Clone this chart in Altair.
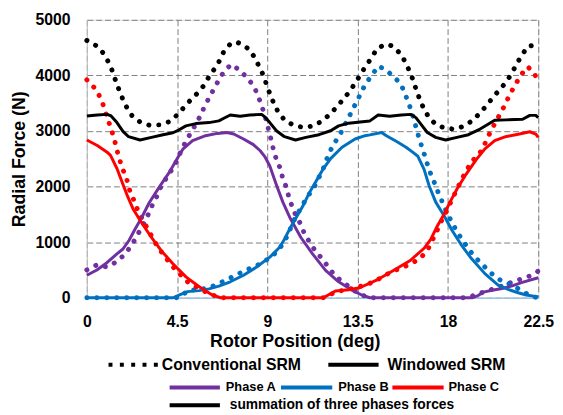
import altair as alt
import pandas as pd

# ---------------- data ----------------
conv_total_x = [0, 0.44, 0.8, 1.05, 1.26, 1.42, 1.59, 1.78, 2.0, 2.26, 2.65, 3.11, 3.63, 4.12, 4.5, 4.81, 5.16, 5.52, 5.84, 6.09, 6.38, 6.63, 6.83, 7.19, 7.45, 7.68, 8.05, 8.35, 8.58, 8.79, 8.95, 9.12, 9.31, 9.53, 9.85, 10.3, 10.8, 11.3, 11.74, 12.11, 12.42, 12.77, 13.1, 13.37, 13.65, 13.91, 14.19, 14.44, 14.81, 15.05, 15.3, 15.67, 15.91, 16.11, 16.29, 16.44, 16.62, 16.81, 17.06, 17.42, 17.91, 18.42, 18.89, 19.3, 19.65, 19.97, 20.28, 20.63, 20.94, 21.2, 21.43, 21.69, 21.97, 22.41, 22.5]
conv_total_y = [4628, 4540, 4409, 4256, 4090, 3920, 3753, 3583, 3417, 3270, 3163, 3104, 3110, 3168, 3287, 3411, 3553, 3683, 3819, 3978, 4125, 4274, 4433, 4580, 4600, 4568, 4480, 4332, 4167, 4008, 3842, 3671, 3505, 3346, 3198, 3104, 3062, 3092, 3181, 3299, 3417, 3565, 3712, 3859, 4019, 4173, 4315, 4469, 4551, 4555, 4510, 4373, 4214, 4054, 3890, 3712, 3547, 3388, 3239, 3110, 3044, 3034, 3104, 3210, 3346, 3477, 3624, 3760, 3902, 4049, 4214, 4363, 4522, 4551, 4560]

win_total_x = [0, 0.52, 1.01, 1.21, 1.5, 1.8, 2.08, 2.65, 3.22, 3.8, 4.29, 4.58, 4.94, 5.43, 6.09, 6.58, 6.83, 7.15, 7.64, 8.13, 8.71, 8.87, 9.12, 9.45, 9.85, 10.4, 10.92, 11.57, 12.15, 12.55, 13.05, 13.62, 14.11, 14.52, 15.09, 15.67, 16.16, 16.4, 16.65, 16.97, 17.39, 17.88, 18.45, 19.02, 19.6, 20.0, 20.33, 20.9, 21.72, 22.08, 22.38, 22.5]
win_total_y = [3270, 3287, 3299, 3270, 3151, 2992, 2897, 2838, 2885, 2933, 2968, 3016, 3092, 3133, 3151, 3181, 3228, 3287, 3264, 3287, 3299, 3252, 3151, 3004, 2897, 2838, 2885, 2933, 3004, 3092, 3140, 3163, 3181, 3287, 3264, 3287, 3299, 3240, 3122, 2973, 2885, 2838, 2885, 2933, 3034, 3122, 3193, 3200, 3210, 3281, 3281, 3240]

win_a_x = [0, 0.5, 1.0, 1.5, 1.8, 2.1, 2.4, 2.73, 3.1, 3.6, 4.1, 4.5, 4.8, 5.27, 5.92, 6.5, 6.99, 7.32, 7.81, 8.3, 8.63, 8.87, 9.12, 9.45, 9.77, 10.15, 10.67, 11.25, 11.9, 12.55, 13.21, 13.7, 14.1, 19.2, 19.5, 19.76, 20.2, 20.7, 21.2, 21.7, 22.5]
win_a_y = [404, 500, 630, 790, 877, 1030, 1231, 1439, 1705, 1985, 2250, 2500, 2679, 2826, 2915, 2956, 2973, 2945, 2856, 2755, 2649, 2540, 2370, 2030, 1720, 1420, 1084, 789, 493, 287, 138, 50, 0, 0, 40, 100, 135, 165, 215, 275, 360]

conv_a_x = [0, 0.52, 1.01, 1.45, 1.83, 2.16, 2.41, 2.65, 2.9, 3.11, 3.31, 3.55, 3.71, 4.01, 4.29, 4.53, 4.7, 4.94, 5.19, 5.43, 5.68, 5.87, 6.09, 6.34, 6.58, 6.83, 7.19, 7.61, 7.97, 8.27, 8.5, 8.66, 8.82, 8.95, 9.07, 9.2, 9.31, 9.45, 9.66, 9.77, 9.97, 10.07, 10.23, 10.43, 10.67, 10.84, 11.08, 11.36, 11.66, 11.98, 12.26, 12.6, 12.97, 13.29, 13.7, 14.1, 19.0, 19.35, 19.84, 20.33, 20.83, 21.23, 21.72, 22.18, 22.5]
conv_a_y = [500, 594, 552, 641, 759, 907, 1054, 1214, 1379, 1538, 1705, 1864, 2017, 2176, 2336, 2490, 2649, 2814, 2973, 3122, 3287, 3447, 3594, 3760, 3920, 4067, 4196, 4097, 3966, 3831, 3671, 3505, 3340, 3181, 3004, 2826, 2649, 2484, 2313, 2135, 1970, 1804, 1645, 1467, 1320, 1155, 1014, 859, 730, 581, 446, 328, 227, 138, 50, 0, 0, 50, 110, 168, 227, 287, 346, 404, 480]

win_b_x = [0, 4.3, 4.62, 5.02, 5.6, 6.09, 6.58, 7.15, 7.81, 8.46, 9.12, 9.61, 9.85, 10.1, 10.43, 10.76, 11.08, 11.41, 11.74, 12.15, 12.72, 13.37, 13.87, 14.11, 14.69, 14.93, 15.42, 15.91, 16.24, 16.5, 16.81, 17.06, 17.39, 17.8, 18.2, 18.69, 19.18, 19.84, 20.5, 21.0, 21.5, 21.9, 22.5]
win_b_y = [0, 0, 50, 110, 128, 160, 209, 287, 404, 552, 730, 907, 1054, 1231, 1439, 1645, 1882, 2087, 2295, 2502, 2708, 2856, 2915, 2930, 2973, 2915, 2814, 2708, 2619, 2545, 2310, 2015, 1720, 1480, 1215, 936, 700, 434, 227, 150, 90, 50, 15]

conv_b_x = [0, 4.6, 4.75, 5.02, 6.0, 6.5, 6.99, 7.43, 7.89, 8.33, 8.79, 9.2, 9.53, 9.85, 10.07, 10.3, 10.67, 11.0, 11.33, 11.49, 11.74, 11.9, 12.06, 12.31, 12.59, 12.8, 13.05, 13.26, 13.51, 13.7, 13.95, 14.24, 14.55, 14.96, 15.34, 15.67, 15.86, 16.04, 16.19, 16.32, 16.45, 16.57, 16.73, 16.9, 17.06, 17.26, 17.42, 17.63, 17.8, 18.04, 18.25, 18.5, 18.78, 19.02, 19.35, 19.68, 20.0, 20.33, 20.74, 21.23, 21.72, 22.2, 22.5]
conv_b_y = [0, 0, 40, 128, 168, 240, 328, 404, 493, 552, 641, 741, 847, 1014, 1173, 1380, 1616, 1822, 1981, 2117, 2277, 2442, 2590, 2768, 2915, 3074, 3239, 3399, 3565, 3720, 3872, 4026, 4168, 4079, 3966, 3831, 3665, 3505, 3340, 3181, 3016, 2856, 2679, 2496, 2295, 2135, 1970, 1804, 1645, 1467, 1320, 1155, 1014, 877, 730, 611, 493, 386, 287, 227, 110, 21, 0]

win_c_x = [0, 0.52, 1.01, 1.18, 1.5, 1.75, 2.0, 2.32, 2.73, 3.22, 3.71, 4.29, 4.94, 5.6, 6.25, 6.66, 11.8, 11.9, 12.39, 13.05, 13.6, 14.44, 15.3, 16.12, 16.81, 17.14, 17.47, 17.8, 18.12, 18.45, 18.9, 19.4, 19.84, 20.33, 20.87, 21.56, 22.08, 22.38, 22.5]
win_c_y = [2838, 2738, 2619, 2560, 2325, 2087, 1852, 1586, 1350, 1084, 847, 611, 376, 198, 50, 0, 0, 21, 120, 145, 180, 316, 493, 670, 890, 1050, 1290, 1497, 1733, 1955, 2220, 2480, 2679, 2826, 2897, 2945, 2986, 2945, 2885]

conv_c_x = [0, 0.36, 0.64, 0.82, 0.96, 1.13, 1.29, 1.42, 1.54, 1.67, 1.83, 2.0, 2.13, 2.32, 2.49, 2.73, 2.95, 3.22, 3.47, 3.76, 4.04, 4.37, 4.7, 5.02, 5.43, 5.84, 6.25, 6.7, 11.9, 12.39, 12.88, 13.37, 13.87, 14.33, 14.8, 15.25, 15.7, 16.16, 16.62, 16.97, 17.19, 17.42, 17.6, 17.84, 18.04, 18.25, 18.47, 18.69, 18.94, 19.18, 19.55, 19.8, 20.0, 20.22, 20.45, 20.7, 20.92, 21.15, 21.4, 21.64, 21.97, 22.25, 22.5]
conv_c_y = [3920, 3783, 3624, 3464, 3299, 3122, 2945, 2779, 2601, 2442, 2277, 2117, 1940, 1776, 1616, 1439, 1290, 1113, 953, 801, 670, 523, 404, 287, 198, 120, 50, 0, 0, 110, 138, 181, 227, 292, 390, 478, 538, 611, 712, 847, 1014, 1173, 1332, 1485, 1645, 1804, 1970, 2135, 2295, 2454, 2578, 2738, 2900, 3053, 3210, 3370, 3535, 3700, 3860, 4008, 4155, 4067, 3902]

x_ticks = [0, 4.5, 9, 13.5, 18, 22.5]
y_ticks = [0, 1000, 2000, 3000, 4000, 5000]

series_names = ["Phase A", "Phase B", "Phase C", "Total"]
series_colors = ["#7030A0", "#0070C0", "#FF0000", "#000000"]

FONT = "Liberation Sans"


def frame(xs, ys, name):
    return pd.DataFrame({"deg": xs, "force": ys, "series": name})


conv_df = pd.concat([
    frame(conv_a_x, conv_a_y, "Phase A"),
    frame(conv_b_x, conv_b_y, "Phase B"),
    frame(conv_c_x, conv_c_y, "Phase C"),
    frame(conv_total_x, conv_total_y, "Total"),
])
win_df = pd.concat([
    frame(win_a_x, win_a_y, "Phase A"),
    frame(win_b_x, win_b_y, "Phase B"),
    frame(win_c_x, win_c_y, "Phase C"),
    frame(win_total_x, win_total_y, "Total"),
])

x_enc = alt.X(
    "deg:Q",
    scale=alt.Scale(domain=[0, 22.5], nice=False, zero=False),
    axis=alt.Axis(
        values=x_ticks, format=".1~f", title="Rotor Position (deg)",
        titleX=211, titleY=44, titleAlign="center", titleBaseline="middle",
        titleFontSize=18, titleFont=FONT, titleFontWeight="bold", titleColor="#000000",
        labelFontSize=16, labelFont=FONT, labelFontWeight="bold", labelColor="#000000",
        labelPadding=29, labelBaseline="alphabetic", labelFlush=False,
        ticks=False, tickSize=0,
        domainColor="#9DC3E6", domainWidth=1.5,
        grid=True, gridColor="#7F7F7F", gridDash=[6, 3], gridWidth=1,
    ),
)
y_enc = alt.Y(
    "force:Q",
    scale=alt.Scale(domain=[0, 5000], nice=False),
    axis=alt.Axis(
        values=y_ticks, format="d", title="Radial Force (N)",
        titleX=-68, titleY=141, titleAngle=270, titleAlign="center", titleBaseline="middle",
        titleFontSize=18, titleFont=FONT, titleFontWeight="bold", titleColor="#000000",
        labelFontSize=16, labelFont=FONT, labelFontWeight="bold", labelColor="#000000",
        labelPadding=17, ticks=False, tickSize=0,
        domainColor="#BFBFBF", domainWidth=1,
        grid=True, gridColor="#7F7F7F", gridDash=[6, 3], gridWidth=1,
    ),
)
color_enc = alt.Color(
    "series:N",
    scale=alt.Scale(domain=series_names, range=series_colors),
    legend=None,
)

conv_layer = alt.Chart(conv_df).mark_line(
    strokeDash=[0.1, 10], strokeCap="round", strokeWidth=5
).encode(x=x_enc, y=y_enc, color=color_enc)

win_layer = alt.Chart(win_df).mark_line(
    strokeWidth=3, strokeJoin="round"
).encode(x=x_enc, y=y_enc, color=color_enc)

# ---------------- hand-built legend (outside plot area) ----------------
leg_lines = pd.DataFrame({
    "x1": [245, 84, 197, 310, 84],
    "x2": [296, 135, 249, 362, 135],
    "y": [350, 373, 373, 373, 391],
    "c": ["#000000", "#7030A0", "#0070C0", "#FF0000", "#000000"],
})
leg_lines_layer = alt.Chart(leg_lines).mark_rule(strokeWidth=4).encode(
    x=alt.X("x1:Q", scale=None), x2="x2:Q",
    y=alt.Y("y:Q", scale=None), color=alt.Color("c:N", scale=None),
)
leg_dots = pd.DataFrame({"x1": [22], "x2": [72], "y": [350]})
leg_dots_layer = alt.Chart(leg_dots).mark_rule(
    strokeWidth=4, strokeDash=[4, 7.5], color="#000000"
).encode(x=alt.X("x1:Q", scale=None), x2="x2:Q", y=alt.Y("y:Q", scale=None))

leg_text = pd.DataFrame({
    "x": [76, 305, 141, 255, 367, 145],
    "y": [350, 350, 373, 373, 373, 391],
    "t": ["Conventional SRM", "Windowed SRM", "Phase A", "Phase B", "Phase C",
          "summation of three phases forces"],
    "s": [16, 16, 13, 13, 13, 14],
})
leg_text_layer = alt.Chart(leg_text).mark_text(
    align="left", baseline="middle", font=FONT, fontWeight="bold", color="#000000"
).encode(
    x=alt.X("x:Q", scale=None), y=alt.Y("y:Q", scale=None),
    text="t:N", size=alt.Size("s:Q", scale=None),
)

chart = alt.layer(
    conv_layer, win_layer, leg_lines_layer, leg_dots_layer, leg_text_layer
).properties(
    width=458, height=282,
    autosize=alt.AutoSizeParams(type="none"),
    padding={"left": 80, "top": 9, "right": 17, "bottom": 116},
).configure_view(stroke=None).configure(background="#ffffff")

chart.save("out.html", embed_options={"renderer": "svg", "actions": False})
